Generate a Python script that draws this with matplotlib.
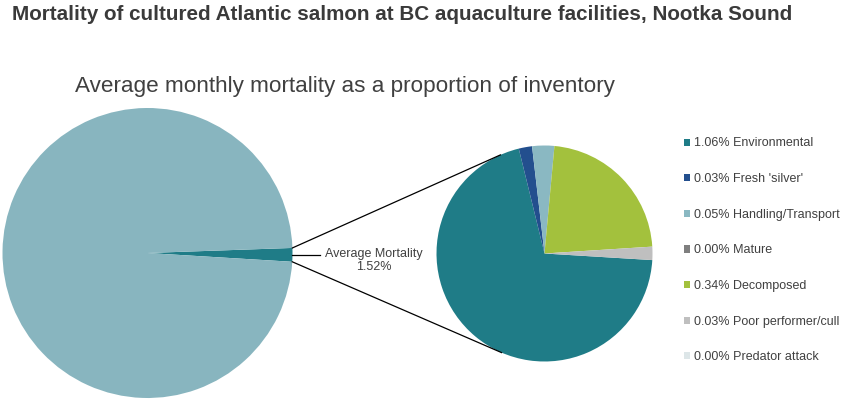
import numpy as np
import matplotlib
matplotlib.use("Agg")
import matplotlib.pyplot as plt
from matplotlib.patches import Patch
from matplotlib.lines import Line2D

# ---- data ----
title = "Mortality of cultured Atlantic salmon at BC aquaculture facilities, Nootka Sound"
subtitle = "Average monthly mortality as a proportion of inventory"
avg_mortality = 1.52
main_labels = ["Average Mortality", "Survived"]
causes = ["Environmental", "Fresh 'silver'", "Handling/Transport", "Mature",
          "Decomposed", "Poor performer/cull", "Predator attack"]
cause_values = [1.06, 0.03, 0.05, 0.00, 0.34, 0.03, 0.00]
cause_colors = ["#1f7c87", "#234f8e", "#8ab8c2", "#7f7f7f", "#a3c13d", "#bfbfbf", "#dde6e8"]
main_colors = ["#1f7c87", "#88b5bf"]

W, H = 849, 403
fig = plt.figure(figsize=(W / 100, H / 100), dpi=100)
plt.rcParams['font.family'] = ['Liberation Sans', 'DejaVu Sans']

def px_axes(cx, cy, r):
    return fig.add_axes([(cx - r) / W, (H - cy - r) / H, 2 * r / W, 2 * r / H])

# big pie
ax1 = px_axes(147.5, 253, 145)
main_values = [avg_mortality, 100 - avg_mortality]
w1, _ = ax1.pie(main_values, colors=main_colors, startangle=2, counterclock=False,
                radius=1, wedgeprops=dict(linewidth=0))
ax1.set_xlim(-1, 1); ax1.set_ylim(-1, 1)
ax1.set_aspect('auto')
ax1.axis('off')

# small pie
ax2 = px_axes(544.5, 253.5, 108)
w2, _ = ax2.pie(cause_values, colors=cause_colors, startangle=-3.5, counterclock=False,
                radius=1, wedgeprops=dict(linewidth=0))
ax2.set_xlim(-1, 1); ax2.set_ylim(-1, 1)
ax2.set_aspect('auto')
ax2.axis('off')

# connector lines: from mortality wedge edges to tangent points on the small pie
wm = w1[0]
t_hi, t_lo = np.deg2rad(wm.theta2), np.deg2rad(wm.theta1)
c2 = ax2.transData.transform((0, 0))
r2 = ax2.transData.transform((1, 0))[0] - c2[0]
inv = fig.transFigure.inverted()
for t, sgn in ((t_hi, 1), (t_lo, -1)):
    p = ax1.transData.transform((np.cos(t), np.sin(t)))
    d = p - c2
    dist = np.hypot(*d)
    base = np.arctan2(d[1], d[0])
    a = np.arccos(r2 / dist)
    ang = base - sgn * a
    q = c2 + r2 * np.array([np.cos(ang), np.sin(ang)])
    fig.add_artist(Line2D([inv.transform(p)[0], inv.transform(q)[0]],
                          [inv.transform(p)[1], inv.transform(q)[1]],
                          transform=fig.transFigure, color="black", lw=0.9))

# data label on mortality slice
tm = np.deg2rad((wm.theta1 + wm.theta2) / 2)
ax1.plot([np.cos(tm), 1.19], [np.sin(tm), np.sin(tm)], color="black", lw=0.9, clip_on=False)
ax1.text(1.56, -0.05, f"{main_labels[0]}\n{avg_mortality:.2f}%", ha="center", va="center",
         fontsize=9, color="#404040", linespacing=1.15, clip_on=False)

# legend
handles = [Patch(facecolor=c, edgecolor='none') for c in cause_colors]
labels = [f"{v:.2f}% {n}" for v, n in zip(cause_values, causes)]
fig.legend(handles, labels, loc="upper left", bbox_to_anchor=(684 / W, 1 - 137.5 / H),
           frameon=False, fontsize=9, handlelength=0.5, handleheight=0.5, handletextpad=0.3,
           labelspacing=1.89, labelcolor="#404040", borderaxespad=0, borderpad=0)

fig.text(12 / W, 1 - 20 / H, title, fontsize=14.9, fontweight="bold", color="#3a3a3a",
         ha="left", va="baseline")
fig.text(345 / W, 1 - 92 / H, subtitle, fontsize=16.2, color="#404040",
         ha="center", va="baseline")

fig.savefig("out.png", dpi=100)
